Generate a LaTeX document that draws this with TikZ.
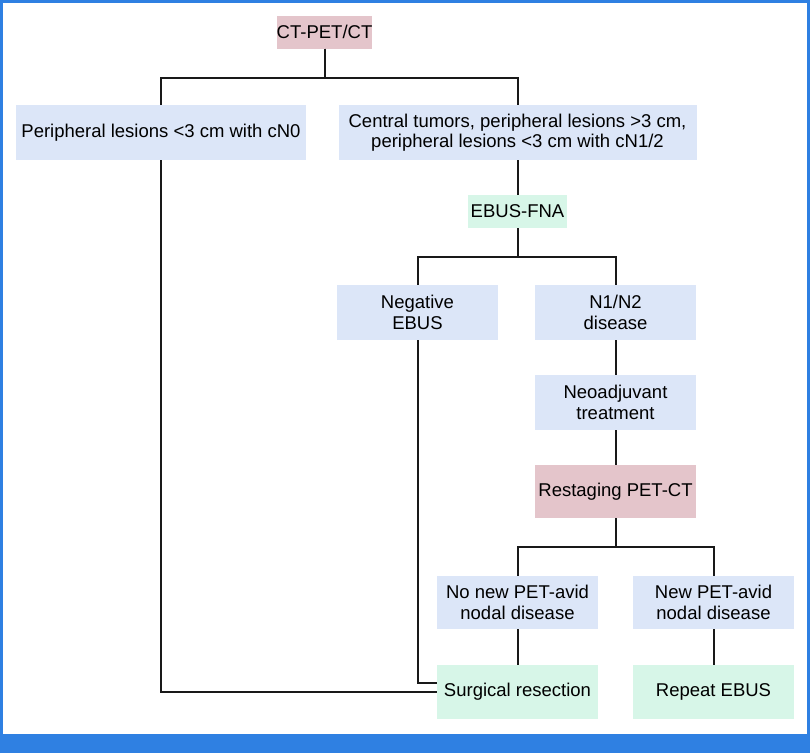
\documentclass[tikz,border=0pt]{standalone}
\usepackage{fontspec}
\setmainfont{Liberation Sans}
\usetikzlibrary{positioning}

\definecolor{boxblue}{HTML}{DCE6F8}
\definecolor{boxgreen}{HTML}{D7F6E8}
\definecolor{boxpink}{HTML}{E4C5CB}
\definecolor{framecol}{HTML}{2F80E2}

\begin{document}
\begin{tikzpicture}[
    x=1pt, y=-1pt,
    every node/.append style={font=\fontsize{18.5}{20.5}\selectfont, align=center, inner sep=0pt},
    stepbox/.style={fill=boxblue, minimum width=161pt, minimum height=55pt},
    testbox/.style={fill=boxgreen, minimum height=33pt},
    scanbox/.style={fill=boxpink, minimum height=33pt},
    link/.style={line width=2pt, black!90},
  ]
  \useasboundingbox (0,0) rectangle (810,753);
  \draw[framecol, line width=3pt] (1.5,753) -- (1.5,1.5) -- (808.5,1.5) -- (808.5,753);
  \fill[framecol] (0,734) rectangle (810,753);

  \node[scanbox, minimum width=95pt] (ctpet) at (324.5,32) {CT-PET/CT};
  \node[stepbox, minimum width=290pt] (periph) at (161,132.5) {Peripheral lesions <3 cm with cN0};
  \node[stepbox, minimum width=358pt] (central) at (517.5,132.5)
    {Central tumors, peripheral lesions >3 cm,\\ peripheral lesions <3 cm with cN1/2};
  \node[testbox, minimum width=99pt] (ebus) at (517.5,211.5) {EBUS-FNA};
  \node[stepbox] (negebus) at (417.5,312.5) {Negative\\ EBUS};
  \node[stepbox] (n1n2) at (615.5,312.5) {N1/N2\\ disease};
  \node[stepbox] (neoadj) at (615.5,402.5) {Neoadjuvant\\ treatment};
  \node[scanbox, minimum width=161pt, minimum height=53pt] (restage) at (615.5,491.5) {Restaging PET-CT};
  \node[stepbox, minimum height=53pt] (nonew) at (517.5,602.5) {No new PET-avid\\ nodal disease};
  \node[stepbox, minimum height=53pt] (newpet) at (713.5,602.5) {New PET-avid\\ nodal disease};
  \node[testbox, minimum width=161pt, minimum height=54pt] (surg) at (517.5,692) {Surgical resection};
  \node[testbox, minimum width=161pt, minimum height=54pt] (repeat) at (713.5,692) {Repeat EBUS};

  \draw[link] (ctpet.south) -- +(0,29) -| (periph.north);
  \draw[link] (ctpet.south) -- +(0,29) -| (central.north);
  \draw[link] (central) -- (ebus);
  \draw[link] (ebus.south) -- +(0,29) -| (negebus.north);
  \draw[link] (ebus.south) -- +(0,29) -| (n1n2.north);
  \draw[link] (n1n2) -- (neoadj);
  \draw[link] (neoadj) -- (restage);
  \draw[link] (restage.south) -- +(0,29) -| (nonew.north);
  \draw[link] (restage.south) -- +(0,29) -| (newpet.north);
  \draw[link] (nonew) -- (surg);
  \draw[link] (newpet) -- (repeat);
  \draw[link] (periph.south) |- (surg.west);
  \draw[link] (negebus.south) |- ([yshift=9pt]surg.west);
\end{tikzpicture}
\end{document}
